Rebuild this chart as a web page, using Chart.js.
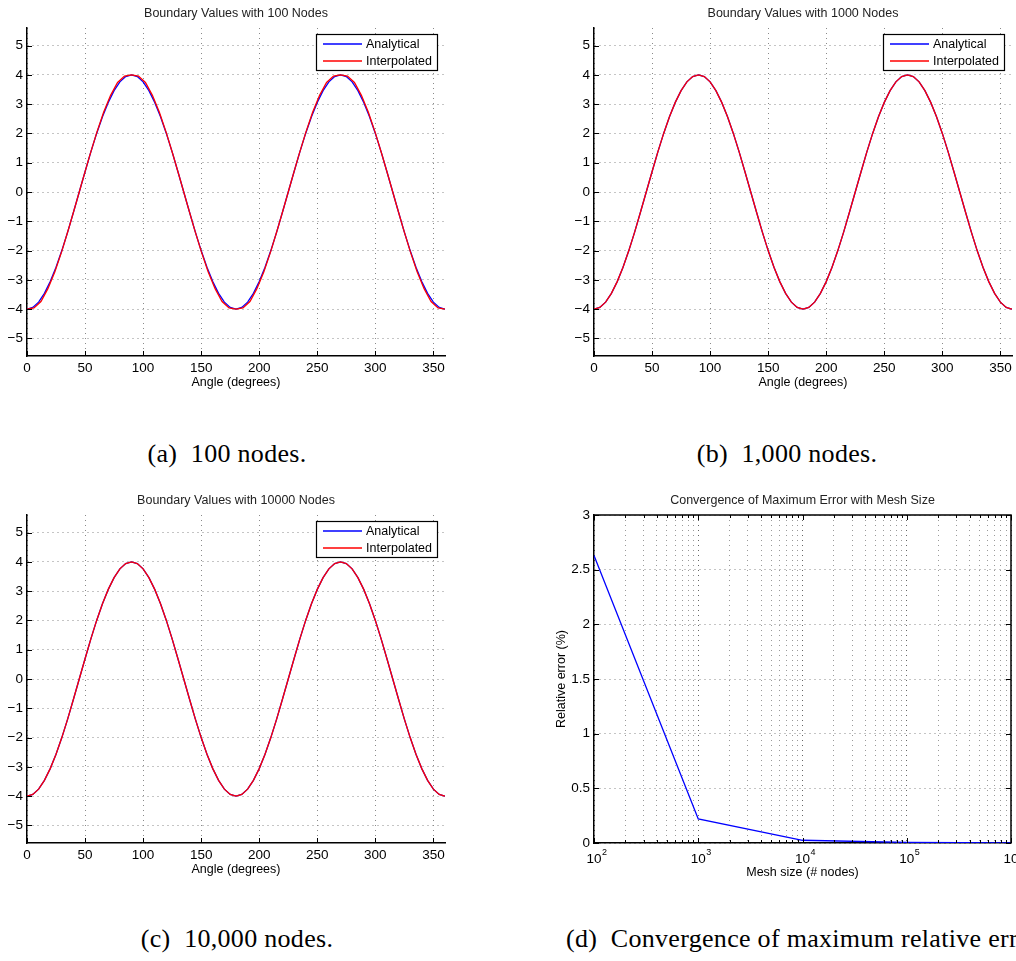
<!DOCTYPE html>
<html>
<head>
<meta charset="utf-8">
<script src="https://cdn.jsdelivr.net/npm/chart.js@4.4.1/dist/chart.umd.min.js"></script>
<style>
  html, body { margin: 0; padding: 0; background: #fff; }
  body { width: 1016px; height: 961px; position: relative; overflow: hidden; }
  canvas { position: absolute; }
  .cap { position: absolute; font-family: "Liberation Serif", "DejaVu Serif", serif; font-size: 26px;
         color: #000; white-space: nowrap; line-height: 1; letter-spacing: 0.3px; }
  .centrado { text-align: center; width: 400px; }
</style>
</head>
<body>
<canvas id="g100" width="480" height="400" style="left:0px;top:0px"></canvas>
<canvas id="g1000" width="449" height="400" style="left:567px;top:0px"></canvas>
<canvas id="g10000" width="480" height="400" style="left:0px;top:487px"></canvas>
<canvas id="gconv" width="476" height="420" style="left:540px;top:480px"></canvas>

<div class="cap centrado" style="left:27px;top:441px">(a)&nbsp; 100 nodes.</div>
<div class="cap centrado" style="left:587px;top:441px">(b)&nbsp; 1,000 nodes.</div>
<div class="cap centrado" style="left:37px;top:926px">(c)&nbsp; 10,000 nodes.</div>
<div class="cap" style="left:566px;top:926px">(d)&nbsp; Convergence of maximum relative error.</div>

<script>
// --- Datos: curvas de frontera ---
const angleDeg = [0, 5, 10, 15, 20, 25, 30, 35, 40, 45, 50, 55, 60, 65, 70, 75, 80, 85, 90,
  95, 100, 105, 110, 115, 120, 125, 130, 135, 140, 145, 150, 155, 160, 165, 170, 175, 180,
  185, 190, 195, 200, 205, 210, 215, 220, 225, 230, 235, 240, 245, 250, 255, 260, 265, 270,
  275, 280, 285, 290, 295, 300, 305, 310, 315, 320, 325, 330, 335, 340, 345, 350, 355, 360];

const analyticVals = [-4, -3.94, -3.76, -3.46, -3.06, -2.57, -2, -1.37, -0.69, 0, 0.69, 1.37, 2, 2.57, 3.06, 3.46, 3.76, 3.94, 4,
  3.94, 3.76, 3.46, 3.06, 2.57, 2, 1.37, 0.69, 0, -0.69, -1.37, -2, -2.57, -3.06, -3.46, -3.76, -3.94, -4,
  -3.94, -3.76, -3.46, -3.06, -2.57, -2, -1.37, -0.69, 0, 0.69, 1.37, 2, 2.57, 3.06, 3.46, 3.76, 3.94, 4,
  3.94, 3.76, 3.46, 3.06, 2.57, 2, 1.37, 0.69, 0, -0.69, -1.37, -2, -2.57, -3.06, -3.46, -3.76, -3.94, -4];

// nodos de la malla de 100 nodos
const nodeAngle100 = [0, 6, 12, 18, 24, 30, 36, 42, 48, 54, 60, 66, 72, 78, 84, 90,
  96, 102, 108, 114, 120, 126, 132, 138, 144, 150, 156, 162, 168, 174, 180,
  186, 192, 198, 204, 210, 216, 222, 228, 234, 240, 246, 252, 258, 264, 270,
  276, 282, 288, 294, 300, 306, 312, 318, 324, 330, 336, 342, 348, 354, 360];

const interp100 = [-4, -3.96, -3.74, -3.3, -2.72, -2.02, -1.24, -0.42, 0.42, 1.24, 2.02, 2.72, 3.3, 3.74, 3.96, 4,
  3.96, 3.74, 3.3, 2.72, 2.02, 1.24, 0.42, -0.42, -1.24, -2.02, -2.72, -3.3, -3.74, -3.96, -4,
  -3.96, -3.74, -3.3, -2.72, -2.02, -1.24, -0.42, 0.42, 1.24, 2.02, 2.72, 3.3, 3.74, 3.96, 4,
  3.96, 3.74, 3.3, 2.72, 2.02, 1.24, 0.42, -0.42, -1.24, -2.02, -2.72, -3.3, -3.74, -3.96, -4];

// con 1000 y 10000 nodos la interpolada no se distingue de la analitica
const interp1000 = analyticVals;
const interp10000 = analyticVals;

const angleTicks = [0, 50, 100, 150, 200, 250, 300, 350];
const valueTicks = [-5, -4, -3, -2, -1, 0, 1, 2, 3, 4, 5];

// --- Datos: convergencia ---
const meshSize = [100, 1000, 10000, 100000, 1000000];
const maxRelErr = [2.63, 0.22, 0.025, 0.005, 0.001];

const meshTicks = [100, 200, 300, 400, 500, 600, 700, 800, 900,
  1000, 2000, 3000, 4000, 5000, 6000, 7000, 8000, 9000,
  10000, 20000, 30000, 40000, 50000, 60000, 70000, 80000, 90000,
  100000, 200000, 300000, 400000, 500000, 600000, 700000, 800000, 900000, 1000000];
const decadeVals = [100, 1000, 10000, 100000, 1000000];
const decadeExp = ['2', '3', '4', '5', '6'];
const errTicks = [0, 0.5, 1, 1.5, 2, 2.5, 3];

// --- Estilo comun ---
const fuente = '"Liberation Sans", Arial, sans-serif';
const fTick = { family: fuente, size: 13.5 };
const fLabel = { family: fuente, size: 12.5 };
const gridPunteado = { color: '#8a8a8a', lineWidth: 1, drawTicks: false };
const bordeEje = { display: true, color: '#000', width: 1.5, dash: [1, 4] };

function pares(xs, ys) {
  return xs.map((x, i) => ({ x: x, y: ys[i] }));
}

function menos(v) {
  return v < 0 ? '\u2212' + Math.abs(v) : String(v);
}

// --- Plugin: titulo, leyenda y marcas interiores ---
function marco(titulo, leyenda, caja) {
  return {
    id: 'marco',
    afterDatasetsDraw(chart) {
      if (!leyenda) return;
      const c = chart.ctx, a = chart.chartArea;
      const w = 121, h = 36;
      const x0 = a.right - 8 - w, y0 = a.top + 6;
      c.save();
      c.fillStyle = '#fff';
      c.fillRect(x0, y0, w, h);
      c.strokeStyle = '#000';
      c.lineWidth = 1.2;
      c.strokeRect(x0 + 0.5, y0 + 0.5, w, h);
      c.font = '12.5px ' + fuente;
      c.textBaseline = 'middle';
      c.fillStyle = '#000';
      chart.data.datasets.forEach((ds, i) => {
        const yy = y0 + 10 + i * 17;
        c.strokeStyle = ds.borderColor;
        c.lineWidth = 1.3;
        c.beginPath();
        c.moveTo(x0 + 7, yy);
        c.lineTo(x0 + 46, yy);
        c.stroke();
        c.fillText(ds.label, x0 + 50, yy + 0.5);
      });
      c.restore();
    },
    afterDraw(chart) {
      const c = chart.ctx, a = chart.chartArea;
      const sx = chart.scales.x, sy = chart.scales.y;
      c.save();
      c.fillStyle = '#222';
      c.font = '12.5px ' + fuente;
      c.textAlign = 'center';
      c.textBaseline = 'middle';
      c.fillText(titulo, (a.left + a.right) / 2, a.top - 14);
      c.strokeStyle = '#000';
      c.lineWidth = 1;
      c.beginPath();
      sx.ticks.forEach(t => {
        const px = Math.round(sx.getPixelForValue(t.value)) + 0.5;
        const len = (caja && decadeVals.indexOf(t.value) < 0) ? 3 : 5;
        c.moveTo(px, a.bottom); c.lineTo(px, a.bottom - len);
        if (caja) { c.moveTo(px, a.top); c.lineTo(px, a.top + len); }
      });
      sy.ticks.forEach(t => {
        const py = Math.round(sy.getPixelForValue(t.value)) + 0.5;
        c.moveTo(a.left, py); c.lineTo(a.left + 5, py);
        if (caja) { c.moveTo(a.right, py); c.lineTo(a.right - 5, py); }
      });
      c.stroke();
      if (caja) {
        c.lineWidth = 1.5;
        c.beginPath();
        c.moveTo(a.left, a.top); c.lineTo(a.right, a.top); c.lineTo(a.right, a.bottom);
        c.stroke();
      }
      c.restore();
    }
  };
}

// --- Etiquetas 10^n del eje logaritmico ---
const potencias = {
  id: 'potencias',
  afterDraw(chart) {
    const c = chart.ctx, sx = chart.scales.x, a = chart.chartArea;
    c.save();
    c.fillStyle = '#000';
    c.textBaseline = 'middle';
    decadeVals.forEach((v, i) => {
      const px = sx.getPixelForValue(v);
      c.font = '13.5px ' + fuente;
      c.textAlign = 'center';
      c.fillText('10', px, a.bottom + 16);
      const w = c.measureText('10').width;
      c.font = '9px ' + fuente;
      c.textAlign = 'left';
      c.fillText(decadeExp[i], px + w / 2 + 0.5, a.bottom + 10);
    });
    c.restore();
  }
};

// --- Grafica de valores de frontera ---
function graficaFrontera(canvasId, titulo, ysAzul, xsRojo, ysRojo) {
  const canvas = document.getElementById(canvasId);
  return new Chart(canvas.getContext('2d'), {
    type: 'line',
    data: {
      datasets: [
        { label: 'Analytical', data: pares(angleDeg, ysAzul), borderColor: '#0000ff', borderWidth: 1.3,
          pointRadius: 0, fill: false, order: 1 },
        { label: 'Interpolated', data: pares(xsRojo, ysRojo), borderColor: '#ff0000', borderWidth: 1.3,
          pointRadius: 0, fill: false, order: 0 }
      ]
    },
    options: {
      responsive: false,
      animation: false,
      events: [],
      layout: { padding: { top: 28, right: canvas.width - 445, bottom: 10, left: 0 } },
      plugins: { legend: { display: false }, tooltip: { enabled: false }, title: { display: false } },
      scales: {
        x: {
          type: 'linear', min: 0, max: 360,
          afterBuildTicks: s => { s.ticks = angleTicks.map(v => ({ value: v })); },
          afterFit: s => { s.height = 34; },
          ticks: { font: fTick, color: '#000', padding: 4, maxRotation: 0, autoSkip: false },
          grid: gridPunteado,
          border: bordeEje,
          title: { display: true, text: 'Angle (degrees)', font: fLabel, color: '#000', padding: 0 }
        },
        y: {
          type: 'linear', min: -5.6, max: 5.6,
          afterBuildTicks: s => { s.ticks = valueTicks.map(v => ({ value: v })); },
          afterFit: s => { s.width = 27; },
          ticks: { font: fTick, color: '#000', padding: 4, callback: menos, autoSkip: false },
          grid: gridPunteado,
          border: bordeEje
        }
      }
    },
    plugins: [marco(titulo, true, false)]
  });
}

// --- Grafica de convergencia ---
function graficaConvergencia() {
  const canvas = document.getElementById('gconv');
  return new Chart(canvas.getContext('2d'), {
    type: 'line',
    data: {
      datasets: [{ label: 'Error', data: pares(meshSize, maxRelErr), borderColor: '#0000ff', borderWidth: 1.3,
        pointRadius: 0, fill: false }]
    },
    options: {
      responsive: false,
      animation: false,
      events: [],
      layout: { padding: { top: 35, right: 5, bottom: 20, left: 0 } },
      plugins: { legend: { display: false }, tooltip: { enabled: false }, title: { display: false } },
      scales: {
        x: {
          type: 'logarithmic', min: 100, max: 1000000,
          afterBuildTicks: s => { s.ticks = meshTicks.map(v => ({ value: v })); },
          afterFit: s => { s.height = 37; },
          ticks: { display: false },
          grid: {
            color: ctx => (ctx.tick && decadeVals.indexOf(ctx.tick.value) >= 0) ? '#666' : '#9a9a9a',
            lineWidth: 1, drawTicks: false
          },
          border: bordeEje,
          title: { display: true, text: 'Mesh size (# nodes)', font: fLabel, color: '#000', padding: 0 }
        },
        y: {
          type: 'linear', min: 0, max: 3,
          afterBuildTicks: s => { s.ticks = errTicks.map(v => ({ value: v })); },
          afterFit: s => { s.width = 54; },
          ticks: { font: fTick, color: '#000', padding: 4, callback: v => String(v), autoSkip: false },
          grid: gridPunteado,
          border: bordeEje,
          title: { display: true, text: 'Relative error (%)', font: fLabel, color: '#000',
            padding: { top: 14.5, bottom: 0 } }
        }
      }
    },
    plugins: [marco('Convergence of Maximum Error with Mesh Size', false, true), potencias]
  });
}

// --- Inicializacion ---
graficaFrontera('g100', 'Boundary Values with 100 Nodes', analyticVals, nodeAngle100, interp100);
graficaFrontera('g1000', 'Boundary Values with 1000 Nodes', analyticVals, angleDeg, interp1000);
graficaFrontera('g10000', 'Boundary Values with 10000 Nodes', analyticVals, angleDeg, interp10000);
graficaConvergencia();
</script>
</body>
</html>
